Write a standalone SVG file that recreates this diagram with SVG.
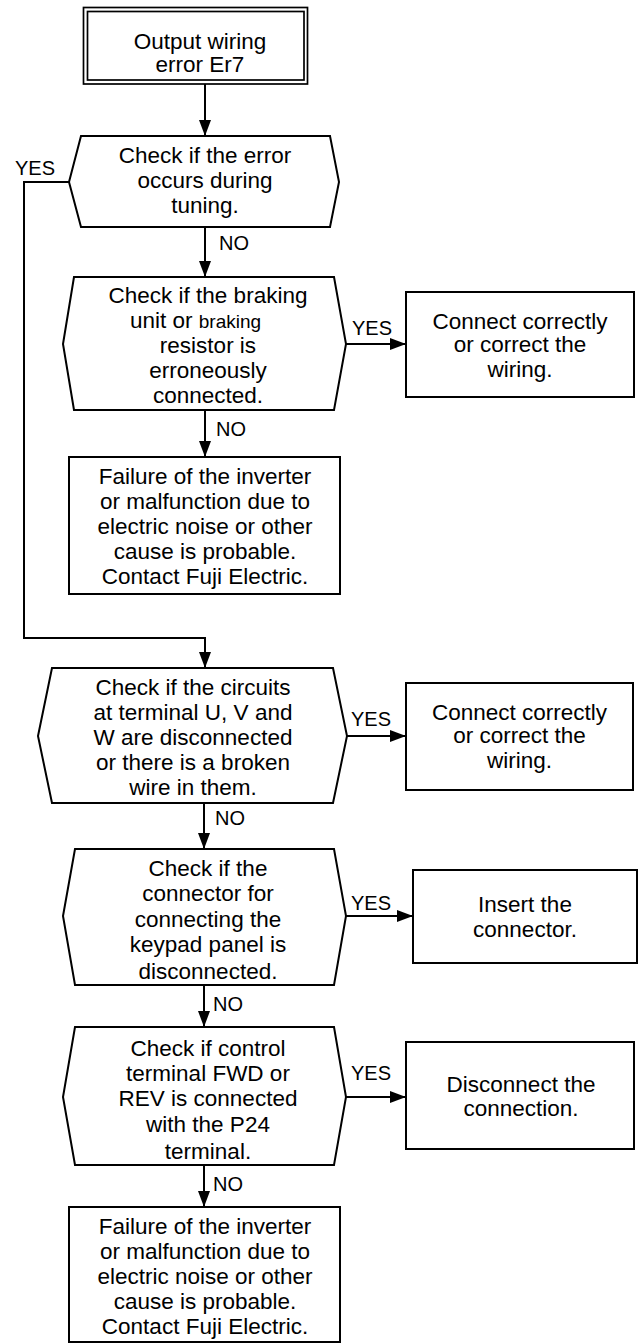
<svg xmlns="http://www.w3.org/2000/svg" width="641" height="1343" viewBox="0 0 641 1343">
<style>
.s{fill:#fff;stroke:#000;stroke-width:2}
.c{fill:none;stroke:#000;stroke-width:2}
text{font-family:"Liberation Sans",Arial,sans-serif;fill:#000}
.t{font-size:22.5px;text-anchor:middle}
.l{font-size:20px}
</style>
<defs>
<marker id="ah" markerUnits="userSpaceOnUse" markerWidth="17" markerHeight="13" refX="16" refY="6" orient="auto">
<path d="M0,0 L16,6 L0,12 Z" fill="#000"/>
</marker>
</defs>
<rect width="641" height="1343" fill="#fff"/>
<g id="connectors">
<line class="c" x1="205" y1="84" x2="205" y2="136" marker-end="url(#ah)"/>
<line class="c" x1="205" y1="227" x2="205" y2="277" marker-end="url(#ah)"/>
<polyline class="c" points="69,182 24,182 24,638 205,638 205,668" marker-end="url(#ah)"/>
<line class="c" x1="346" y1="344" x2="406" y2="344" marker-end="url(#ah)"/>
<line class="c" x1="205" y1="410" x2="205" y2="457" marker-end="url(#ah)"/>
<line class="c" x1="347" y1="736" x2="406" y2="736" marker-end="url(#ah)"/>
<line class="c" x1="204" y1="803" x2="204" y2="849" marker-end="url(#ah)"/>
<line class="c" x1="346" y1="916" x2="413" y2="916" marker-end="url(#ah)"/>
<line class="c" x1="204" y1="985" x2="204" y2="1027" marker-end="url(#ah)"/>
<line class="c" x1="346" y1="1097" x2="406" y2="1097" marker-end="url(#ah)"/>
<line class="c" x1="204" y1="1165" x2="204" y2="1207" marker-end="url(#ah)"/>
<text class="l" x="15" y="175">YES</text>
<text class="l" x="219" y="250">NO</text>
<text class="l" x="352" y="335">YES</text>
<text class="l" x="216" y="436">NO</text>
<text class="l" x="351" y="726">YES</text>
<text class="l" x="215" y="825">NO</text>
<text class="l" x="351" y="910">YES</text>
<text class="l" x="213" y="1011">NO</text>
<text class="l" x="351" y="1080">YES</text>
<text class="l" x="213" y="1191">NO</text>
</g>
<g id="start">
<rect x="83.5" y="7.5" width="224" height="76.5" fill="#fff" stroke="#000" stroke-width="1.7"/>
<rect x="87.5" y="11.5" width="216.5" height="68.5" fill="none" stroke="#000" stroke-width="1.7"/>
<text class="t" x="200" y="49">Output wiring</text>
<text class="t" x="200" y="72">error Er7</text>
</g>
<g id="dec1">
<polygon class="s" points="81,136 330,136 339,182 330,227 81,227 69,182"/>
<text class="t" x="205" y="163">Check if the error</text>
<text class="t" x="205" y="187.5">occurs during</text>
<text class="t" x="205" y="213">tuning.</text>
</g>
<g id="dec2">
<polygon class="s" points="74,277 334,277 346,344 334,410 74,410 63,344"/>
<text class="t" x="208" y="302.5">Check if the braking</text>
<text x="130" y="327.5" font-size="22.5">unit or <tspan font-size="19">braking</tspan></text>
<text class="t" x="208" y="352.5">resistor is</text>
<text class="t" x="208" y="377.5">erroneously</text>
<text class="t" x="208" y="403">connected.</text>
</g>
<g id="box1">
<rect class="s" x="406" y="292" width="228" height="105"/>
<text class="t" x="520" y="328.5">Connect correctly</text>
<text class="t" x="520" y="352">or correct the</text>
<text class="t" x="520" y="377">wiring.</text>
</g>
<g id="fail1">
<rect class="s" x="69" y="457" width="271" height="137"/>
<text class="t" x="205" y="484">Failure of the inverter</text>
<text class="t" x="205" y="508.5">or malfunction due to</text>
<text class="t" x="205" y="534">electric noise or other</text>
<text class="t" x="205" y="558.5">cause is probable.</text>
<text class="t" x="205" y="584">Contact Fuji Electric.</text>
</g>
<g id="dec3">
<polygon class="s" points="52,668 333,668 347,736 333,803 52,803 38,736"/>
<text class="t" x="193" y="694.5">Check if the circuits</text>
<text class="t" x="193" y="719.5">at terminal U, V and</text>
<text class="t" x="193" y="745">W are disconnected</text>
<text class="t" x="193" y="770">or there is a broken</text>
<text class="t" x="193" y="795">wire in them.</text>
</g>
<g id="box2">
<rect class="s" x="406" y="683" width="227" height="107"/>
<text class="t" x="519.5" y="719.5">Connect correctly</text>
<text class="t" x="519.5" y="743">or correct the</text>
<text class="t" x="519.5" y="768">wiring.</text>
</g>
<g id="dec4">
<polygon class="s" points="75,849 334,849 346,916 334,985 75,985 63,916"/>
<text class="t" x="208" y="876">Check if the</text>
<text class="t" x="208" y="901">connector for</text>
<text class="t" x="208" y="927">connecting the</text>
<text class="t" x="208" y="952">keypad panel is</text>
<text class="t" x="208" y="978.5">disconnected.</text>
</g>
<g id="box3">
<rect class="s" x="413" y="870" width="224" height="93"/>
<text class="t" x="525" y="911.5">Insert the</text>
<text class="t" x="525" y="937">connector.</text>
</g>
<g id="dec5">
<polygon class="s" points="75,1027 334,1027 346,1097 334,1165 75,1165 63,1097"/>
<text class="t" x="208" y="1056">Check if control</text>
<text class="t" x="208" y="1081">terminal FWD or</text>
<text class="t" x="208" y="1106">REV is connected</text>
<text class="t" x="208" y="1132">with the P24</text>
<text class="t" x="208" y="1158.5">terminal.</text>
</g>
<g id="box4">
<rect class="s" x="406" y="1042" width="228" height="107"/>
<text class="t" x="521" y="1092">Disconnect the</text>
<text class="t" x="521" y="1116">connection.</text>
</g>
<g id="fail2">
<rect class="s" x="69" y="1207" width="271" height="135"/>
<text class="t" x="205" y="1234">Failure of the inverter</text>
<text class="t" x="205" y="1259">or malfunction due to</text>
<text class="t" x="205" y="1284">electric noise or other</text>
<text class="t" x="205" y="1309">cause is probable.</text>
<text class="t" x="205" y="1334">Contact Fuji Electric.</text>
</g>
</svg>
